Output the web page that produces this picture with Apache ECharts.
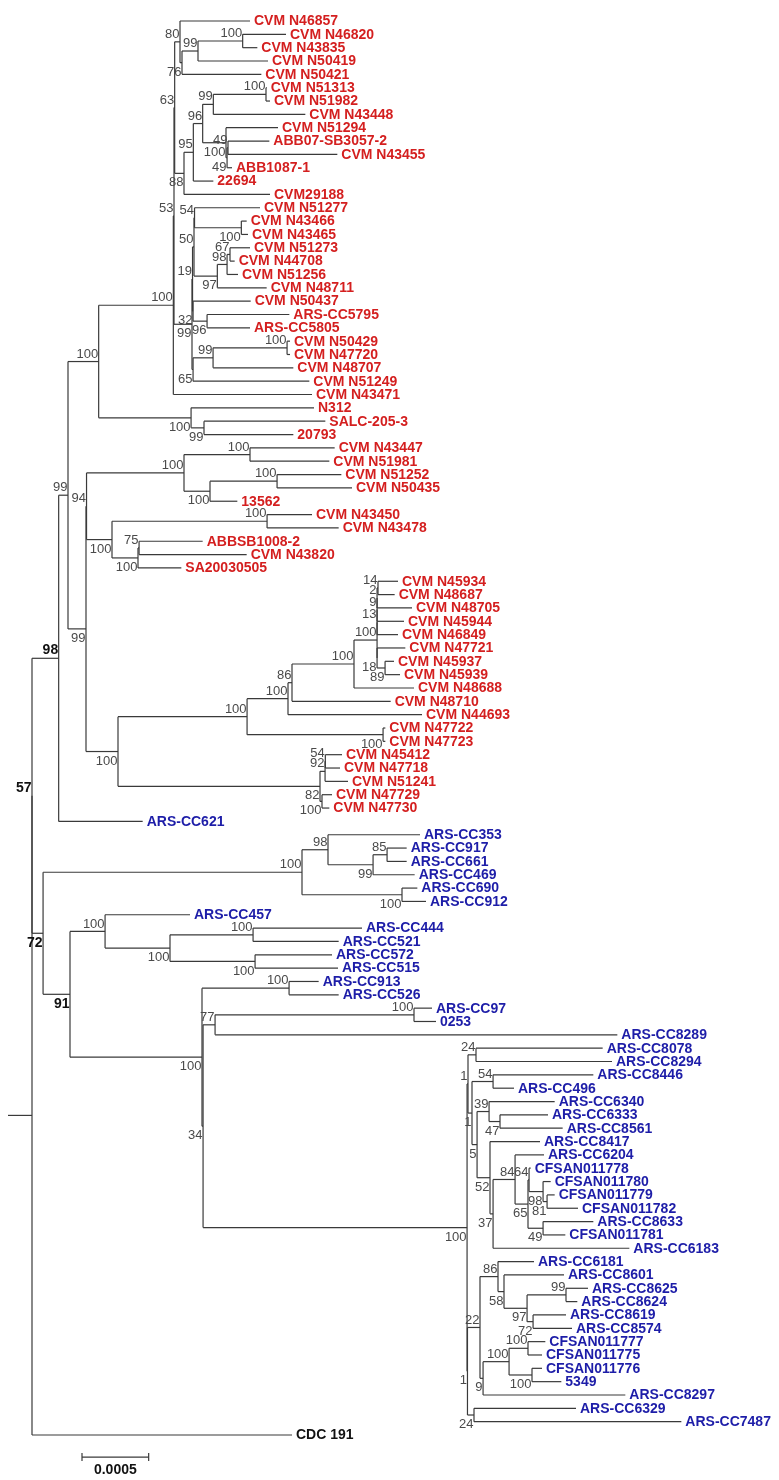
<!DOCTYPE html>
<html><head><meta charset="utf-8">
<script src="https://cdn.jsdelivr.net/npm/echarts@6/dist/echarts.min.js"></script>
<style>html,body{margin:0;padding:0;background:#fff}#c{width:779px;height:1480px}</style>
</head><body><div id="c"></div>
<script>
// ---- leaf names (top to bottom) ----
const redNames = ['CVM N46857','CVM N46820','CVM N43835','CVM N50419','CVM N50421','CVM N51313','CVM N51982','CVM N43448','CVM N51294','ABB07-SB3057-2',
 'CVM N43455','ABB1087-1','22694','CVM29188','CVM N51277','CVM N43466','CVM N43465','CVM N51273','CVM N44708','CVM N51256',
 'CVM N48711','CVM N50437','ARS-CC5795','ARS-CC5805','CVM N50429','CVM N47720','CVM N48707','CVM N51249','CVM N43471','N312',
 'SALC-205-3','20793','CVM N43447','CVM N51981','CVM N51252','CVM N50435','13562','CVM N43450','CVM N43478','ABBSB1008-2',
 'CVM N43820','SA20030505','CVM N45934','CVM N48687','CVM N48705','CVM N45944','CVM N46849','CVM N47721','CVM N45937','CVM N45939',
 'CVM N48688','CVM N48710','CVM N44693','CVM N47722','CVM N47723','CVM N45412','CVM N47718','CVM N51241','CVM N47729','CVM N47730'];
const blueNames = ['ARS-CC621','ARS-CC353','ARS-CC917','ARS-CC661','ARS-CC469','ARS-CC690','ARS-CC912','ARS-CC457','ARS-CC444','ARS-CC521',
 'ARS-CC572','ARS-CC515','ARS-CC913','ARS-CC526','ARS-CC97','0253','ARS-CC8289','ARS-CC8078','ARS-CC8294','ARS-CC8446',
 'ARS-CC496','ARS-CC6340','ARS-CC6333','ARS-CC8561','ARS-CC8417','ARS-CC6204','CFSAN011778','CFSAN011780','CFSAN011779','CFSAN011782',
 'ARS-CC8633','CFSAN011781','ARS-CC6183','ARS-CC6181','ARS-CC8601','ARS-CC8625','ARS-CC8624','ARS-CC8619','ARS-CC8574','CFSAN011777',
 'CFSAN011775','CFSAN011776','5349','ARS-CC8297','ARS-CC6329','ARS-CC7487'];
const outgroupNames = ['CDC 191'];

// distance from root of each leaf, in units of 1e-5 substitutions/site
const leafDepth = [163.5,190.5,169,177,172,176,178.5,205,184.5,178,
 229,150,136,178.5,171,161,162,163.5,152,154.5,
 176,164,193,163.5,193.5,193.5,196,208,210,211.5,
 220,196,227,223,232,240,154,210,230,128,
 161,112,274.5,272,285,279,274.5,280,271.5,276,
 286.5,269,292.5,265,265,232.5,231,237,225,223,
 83,291,281,281,287,289,295.5,118.5,247.5,230,
 225,229.5,215,230,300,303,439,428,435,421,
 361.5,392,387,398,381,384,374,389,392,409.5,
 421,400,448,376.5,399,417,409,400.5,405,385,
 382.5,382.5,397,445,408,487,195];
const leafParent = ['n80','n100a','n100a','n99a','n76','n100b','n100b','n99b','n100d','n49y',
 'n49y','n49x','n95','n88','n54a','n100c','n100c','n67','n67','n98c',
 'n97','Z','n96b','n96b','n100e','n100e','n99c','Y','n100big','n100f',
 'n99d','n99d','n100k','n100k','n100n','n100n','n100m','n100o','n100o','n75',
 'n75','n100p','n14','n14','n2','n9','n13','n18','n89','n89',
 'n100t','n86','n100s','n100r','n100r','n54b','n54b','n92','n100v','n100v',
 'n98','n98b','n85','n85','n99f','n100x','n100x','n100y','n100bb','n100bb',
 'n100cc','n100cc','n100dd','n100dd','n100ee','n100ee','n77','n24','n24','n54c',
 'n54c','n39','n47','n47','n52','n84','n64','n98d','n81','n81',
 'n49','n49','n37','n86b','n58','n99g','n99g','n72b','n72b','n100h2',
 'n100h2','n100i2','n100i2','n9b','n24b','n24b','root'];

// internal nodes
const nodeIds = ['root','n57','n98','P','n100g','n100big','n53','n63','n80','n76',
 'n99a','n100a','n88','n95','n96','n99b','n100b','n100d','n49x','n49y',
 'G','X','n54','n54a','n100c','n97','n98c','n67','Z','n96b',
 'Y','n99c','n100e','n100f','n99d','Q','R','n100h','n100k','n100m',
 'n100n','n100i','n100o','n100p','n75','n100j','n100q','n100s','n86','n100t',
 'n100u','n13','n9','n2','n14','n18','n89','n100r','n82','n92',
 'n54b','n100v','n72','n100w','n98b','n99f','n85','n100x','n91','n100y',
 'n100aa','n100bb','n100cc','n100z','n100dd','n34','n77','n100ee','nBig','u1',
 'n24','u2','n54c','n5','n39','n47','n52','n37','n84','n65',
 'n64','n98d','n81','n49','n1c','n22','n86b','n58','n97b','n99g',
 'n72b','n9b','n100j2','n100h2','n100i2','n24b'];
const nodeParent = [null,'root','n57','n98','P','n100g','n100big','n53','n63','n80',
 'n76','n99a','n63','n88','n95','n96','n99b','n96','n100d','n49x',
 'n53','G','X','n54','n54a','n54','n97','n98c','X','Z',
 'G','Y','n99c','n100g','n100f','P','Q','R','n100h','n100h',
 'n100m','R','n100i','n100i','n100p','Q','n100j','n100q','n100s','n86',
 'n100t','n100u','n13','n9','n2','n100u','n18','n100q','n100j','n82',
 'n92','n82','n57','n72','n100w','n98b','n99f','n100w','n72','n91',
 'n100y','n100aa','n100aa','n91','n100z','n100z','n34','n77','n34','nBig',
 'u1','u1','u2','u2','n5','n39','n5','n52','n37','n84',
 'n65','n64','n98d','n65','nBig','n1c','n22','n86b','n58','n97b',
 'n97b','n22','n9b','n100j2','n100j2','n1c'];
const nodeDepth = [0,0,20,27,50,106,106.5,107,111,112.5,
 124.5,158,114,121,128,136,175.5,145.5,146.3,147,
 120,120.4,121.5,121.9,157,139,146.3,148.5,120.8,131.3,
 120.8,135.8,191.3,119.3,129,40.5,40.9,114,163.5,133.5,
 183.8,60,176.3,79.5,80.3,64.5,161.3,192,195,241.5,
 258.8,258.8,258.8,258.8,259.5,258.8,264.8,263.3,216,219.8,
 220,217.5,8.3,202.5,222,255.8,266.3,277.5,28.5,54.8,
 103.5,165.8,167.3,127.5,192.8,128.3,137.3,286.5,326.3,327,
 333,330,345.8,333.8,342.8,351,343.5,345.8,362.3,372,
 372.8,383.3,386.3,383.3,326.6,336,349.5,354,371.3,400.5,
 375.8,338.3,357.8,372,375,331.5];
const nodeSupport = ['','57','98','99','100','100','53','63','80','76',
 '99','100','88','95','96','99','100','100','49','49',
 '99','19','50','54','100','97','98','67','32','96',
 '65','99','100','100','99','99','94','100','100','100',
 '100','100','100','100','75','100','100','100','86','100',
 '100','13','9','2','14','18','89','100','82','92',
 '54','100','72','100','98','99','85','100','91','100',
 '100','100','100','100','100','34','77','100','100','1',
 '24','1','54','5','39','47','52','37','84','65',
 '64','98','81','49','1','22','86','58','97','99',
 '72','9','100','100','100','24'];

// scale bar
const scaleBarValue = 0.0005;
const depthUnit = 1e-5;
const scaleBarStart = 37.5;
const scaleBarRow = 107.65;
const scaleBarLabel = '0.0005';

// ---- styles ----
const RED = '#d41f1f', BLUE = '#1d1da8', BLACK = '#111111', LINE = '#3a3a3a', SUPPORT = '#4a4a4a';
const boldSupportNodes = ['n98','n57','n72','n91'];
const ROOT_STUB = 18;
const FONT = '"Liberation Sans", Arial, sans-serif';

// ---- layout from the data ----
const leafNames = redNames.concat(blueNames, outgroupNames);
function leafColor(i) {
  if (i < redNames.length) return RED;
  if (i < redNames.length + blueNames.length) return BLUE;
  return BLACK;
}
const idx = {}; nodeIds.forEach((id, k) => idx[id] = k);
const kids = nodeIds.map(() => []);
leafNames.forEach((n, i) => kids[idx[leafParent[i]]].push({leaf: i}));
nodeIds.forEach((id, k) => { if (nodeParent[k]) kids[idx[nodeParent[k]]].push({node: k}); });
const nodeY = [], nodeTop = [], nodeBot = [], nodeMin = [], nodePos = nodeIds.map(() => -1);
function lay(k) {
  const ch = kids[k].map(c => {
    if (c.leaf !== undefined) return {min: c.leaf, y: c.leaf, c};
    lay(c.node);
    return {min: nodeMin[c.node], y: nodeY[c.node], c};
  });
  ch.sort((a, b) => a.min - b.min);
  const f = ch[0], l = ch[ch.length - 1];
  nodeMin[k] = f.min; nodeTop[k] = f.y; nodeBot[k] = l.y;
  nodeY[k] = (f.y + l.y) / 2;
  ch.forEach((o, j) => { if (o.c.node !== undefined) nodePos[o.c.node] = (j === ch.length - 1) ? 1 : 0; });
}
lay(idx['root']);

const items = [];
leafNames.forEach((n, i) => {
  items.push([leafDepth[i], i, nodeDepth[idx[leafParent[i]]], i, i, 0, i, 0]);
});
nodeIds.forEach((id, k) => {
  const pd = nodeParent[k] ? nodeDepth[idx[nodeParent[k]]] : nodeDepth[k] - ROOT_STUB;
  items.push([nodeDepth[k], nodeY[k], pd, nodeTop[k], nodeBot[k], 1, k, nodePos[k]]);
});

function seg(x1, y1, x2, y2) {
  return {type: 'line', shape: {x1, y1, x2, y2}, style: {stroke: LINE, lineWidth: 1.2}};
}

const chart = echarts.init(document.getElementById('c'), null, {renderer: 'canvas'});
chart.setOption({
  animation: false,
  backgroundColor: '#ffffff',
  grid: {left: 0, right: 0, top: 21, bottom: 18.3},
  xAxis: {type: 'value', min: -24, max: 560.25, show: false},
  yAxis: {type: 'value', min: 0, max: 108, inverse: true, show: false},
  series: [{
    type: 'custom',
    silent: true,
    clip: false,
    data: items,
    encode: {x: 0, y: 1},
    renderItem(params, api) {
      const d = api.value(0), y = api.value(1), pd = api.value(2);
      const kind = api.value(5), k = api.value(6), pos = api.value(7);
      const p = api.coord([d, y]), pp = api.coord([pd, y]);
      const ch = [seg(pp[0], p[1], p[0], p[1])];
      if (kind === 1) {
        const t = api.coord([d, api.value(3)]), b = api.coord([d, api.value(4)]);
        ch.push(seg(p[0], t[1], p[0], b[1]));
        const s = nodeSupport[k];
        if (s && pos >= 0) {
          const bold = boldSupportNodes.indexOf(nodeIds[k]) >= 0;
          ch.push({type: 'text', style: {
            text: s, x: p[0] - 0.5, y: pos === 0 ? p[1] - 1 : p[1] + 3,
            align: 'right', verticalAlign: pos === 0 ? 'bottom' : 'top',
            fontFamily: FONT, fontSize: bold ? 14 : 13, fontWeight: bold ? 'bold' : 'normal',
            fill: bold ? BLACK : SUPPORT}});
        }
      } else {
        ch.push({type: 'text', style: {
          text: leafNames[k], x: p[0] + 4, y: p[1] + 0.5, align: 'left', verticalAlign: 'middle',
          fontFamily: FONT, fontSize: 14, fontWeight: 'bold', fill: leafColor(k)}});
      }
      return {type: 'group', children: ch};
    }
  }, {
    type: 'custom',
    silent: true,
    clip: false,
    data: [[scaleBarStart, scaleBarRow, scaleBarStart + scaleBarValue / depthUnit]],
    encode: {x: 0, y: 1},
    renderItem(params, api) {
      const a = api.coord([api.value(0), api.value(1)]);
      const b = api.coord([api.value(2), api.value(1)]);
      return {type: 'group', children: [
        seg(a[0], a[1], b[0], a[1]),
        seg(a[0], a[1] - 4, a[0], a[1] + 4),
        seg(b[0], a[1] - 4, b[0], a[1] + 4),
        {type: 'text', style: {text: scaleBarLabel, x: (a[0] + b[0]) / 2, y: a[1] + 6,
          align: 'center', verticalAlign: 'top', fontFamily: FONT, fontSize: 14, fontWeight: 'bold', fill: BLACK}}
      ]};
    }
  }]
});
</script>
</body></html>
